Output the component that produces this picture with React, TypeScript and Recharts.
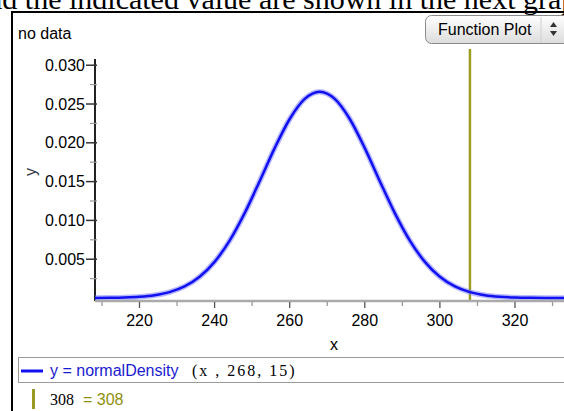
import React from 'react';
import { LineChart, Line, XAxis, YAxis, ReferenceLine } from 'recharts';

// ---- data ----
const xValues = [208, 212, 216, 220, 224, 228, 232, 236, 240, 244, 248, 252, 256, 260, 264, 268, 272, 276, 280, 284, 288, 292, 296, 300, 304, 308, 312, 316, 320, 324, 328, 332, 336];
const densityValues = [
  0.0000089, 0.000025, 0.000065, 0.000159, 0.00036, 0.00076, 0.001493, 0.002732, 0.00466, 0.007394,
  0.010934, 0.015056, 0.019312, 0.02307, 0.025668, 0.026596, 0.025668, 0.02307, 0.019312, 0.015056,
  0.010934, 0.007394, 0.00466, 0.002732, 0.001493, 0.00076, 0.00036, 0.000159, 0.000065, 0.000025,
  0.0000089, 0.0000028, 0.0000008,
];
const xTicks = [210, 220, 230, 240, 250, 260, 270, 280, 290, 300, 310, 320, 330];
const yTicks = [0.0025, 0.005, 0.0075, 0.01, 0.0125, 0.015, 0.0175, 0.02, 0.0225, 0.025, 0.0275, 0.03];
const meanLabel = '268';
const sdLabel = '15';
const markedValue = 308;

const data = xValues.map((x, i) => ({ x, y: densityValues[i] }));

const X_MIN = 208.15;
const X_MAX = 333.05;
const Y_MIN = -0.000387;
const Y_MAX = 0.03209;
const Y_AXIS_TOP = 0.0308;

const SANS = '"Liberation Sans", Arial, sans-serif';
const SERIF = '"Liberation Serif", "Times New Roman", serif';

function YTick(props: any) {
  const { x, y, payload } = props;
  const v = payload.value as number;
  const major = Math.abs(v / 0.005 - Math.round(v / 0.005)) < 1e-6;
  return (
    <g>
      <line x1={major ? x - 9 : x - 5} x2={x + 2} y1={y} y2={y} stroke={major ? '#333' : '#999'} strokeWidth={major ? 1.5 : 1.2} />
      {major && (
        <text x={x - 10} y={y} dy={5.5} textAnchor="end" fontFamily={SANS} fontSize={16} fill="#000">
          {v.toFixed(3)}
        </text>
      )}
    </g>
  );
}

function XTick(props: any) {
  const { x, y, payload } = props;
  const v = payload.value as number;
  const major = v % 20 === 0;
  return (
    <g>
      <line x1={x} x2={x} y1={y + 1} y2={y + (major ? 7 : 5)} stroke={major ? '#555' : '#999'} strokeWidth={1.3} />
      {major && (
        <text x={x} y={y + 25} textAnchor="middle" fontFamily={SANS} fontSize={16} fill="#000">
          {v}
        </text>
      )}
    </g>
  );
}

export default function App() {
  return (
    <div style={{ position: 'fixed', left: 0, top: 0, width: 564, height: 411, background: '#fff', overflow: 'hidden' }}>
      <LineChart width={564} height={411} data={data} margin={{ top: 49, right: 0, left: 0, bottom: 70 }}>
        <XAxis
          dataKey="x"
          type="number"
          domain={[X_MIN, X_MAX]}
          allowDataOverflow
          ticks={xTicks}
          interval={0}
          height={40}
          tickSize={0}
          tickMargin={0}
          tickLine={false}
          tick={<XTick />}
          axisLine={{ stroke: '#aaa', strokeWidth: 2.5 }}
        />
        <YAxis
          type="number"
          domain={[Y_MIN, Y_MAX]}
          allowDataOverflow
          ticks={yTicks}
          interval={0}
          width={95}
          tickSize={0}
          tickMargin={0}
          tickLine={false}
          axisLine={false}
          tick={<YTick />}
        />
        <ReferenceLine
          segment={[{ x: X_MIN, y: Y_MIN }, { x: X_MIN, y: Y_AXIS_TOP }]}
          stroke="#222"
          strokeWidth={2}
          ifOverflow="visible"
        />
        <ReferenceLine x={markedValue} stroke="#9c9c22" strokeWidth={2.5} />
        <Line dataKey="y" type="monotone" stroke="#8080ff" strokeOpacity={0.55} strokeWidth={5.5} dot={false} isAnimationActive={false} />
        <Line dataKey="y" type="monotone" stroke="#1010f0" strokeWidth={2.5} dot={false} isAnimationActive={false} />
      </LineChart>
      <svg width={564} height={411} style={{ position: 'absolute', left: 0, top: 0, pointerEvents: 'none' }}>
        <defs>
          <linearGradient id="btnGrad" x1="0" y1="0" x2="0" y2="1">
            <stop offset="0" stopColor="#ffffff" />
            <stop offset="1" stopColor="#dcdcdc" />
          </linearGradient>
        </defs>
        <text x={-26} y={8.5} fontFamily={SERIF} fontSize={30} fill="#000">
          and the indicated value are shown in the next graph
        </text>
        <line x1={12} x2={12} y1={11} y2={411} stroke="#000" strokeWidth={2} />
        <line x1={11} x2={564} y1={12} y2={12} stroke="#000" strokeWidth={2} />
        <text x={18} y={39} fontFamily={SANS} fontSize={16} fill="#000">no data</text>

        <rect x={425.5} y={15.5} width={150} height={28} rx={6} fill="url(#btnGrad)" stroke="#8a8a8a" />
        <text x={438} y={35} fontFamily={SANS} fontSize={16} fill="#000">Function Plot</text>
        <line x1={541} x2={541} y1={17} y2={42} stroke="#cfcfcf" />
        <path d="M550 27 L553.5 22 L557 27 Z" fill="#333" />
        <path d="M550 31 L553.5 36 L557 31 Z" fill="#333" />

        <text x={30} y={172} transform="rotate(-90, 30, 172)" textAnchor="middle" dominantBaseline="central" fontFamily={SANS} fontSize={16} fill="#334">y</text>
        <text x={334} y={350} textAnchor="middle" fontFamily={SANS} fontSize={16} fill="#000">x</text>

        <rect x={18.5} y={357.5} width={600} height={25} fill="none" stroke="#9a9a9a" />
        <line x1={21} x2={43} y1={371} y2={371} stroke="#1010f0" strokeWidth={3} />
        <text x={50} y={376} fontFamily={SANS} fontSize={16} fill="#1a1ad0">y = normalDensity</text>
        <text x={192} y={376} fontFamily={SERIF} fontSize={16} fill="#000" letterSpacing={2} style={{ whiteSpace: 'pre' }}>
          {`(x , ${meanLabel}, ${sdLabel})`}
        </text>

        <rect x={32} y={389} width={3} height={20} fill="#9a9a22" />
        <text x={50} y={405} fontFamily={SERIF} fontSize={16} fill="#000">{String(markedValue)}</text>
        <text x={83} y={405} fontFamily={SANS} fontSize={16} fill="#8f8f10">{`= ${markedValue}`}</text>
      </svg>
    </div>
  );
}
